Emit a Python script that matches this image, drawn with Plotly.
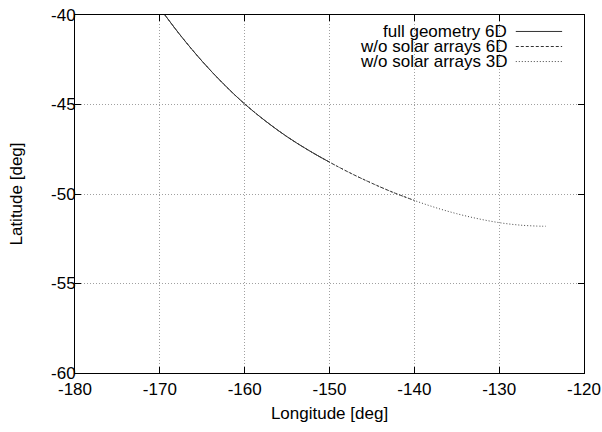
import plotly.graph_objects as go

# Ground track points
lon_full = [-169.4, -167.5, -165, -162.5, -160, -157.5, -155, -152.5, -150]
lat_full = [-40.0, -41.18, -42.59, -43.85, -44.97, -45.94, -46.80, -47.55, -48.22]

lon_6d = [-169.4, -167.5, -165, -162.5, -160, -157.5, -155, -152.5, -150,
          -147.5, -145, -142.5, -140]
lat_6d = [-40.0, -41.18, -42.59, -43.85, -44.97, -45.94, -46.80, -47.55, -48.22,
          -48.84, -49.40, -49.91, -50.36]

lon_3d = [-169.4, -167.5, -165, -162.5, -160, -157.5, -155, -152.5, -150,
          -147.5, -145, -142.5, -140, -137.5, -135, -132.5, -130, -127.5, -125, -124.5]
lat_3d = [-40.0, -41.18, -42.59, -43.85, -44.97, -45.94, -46.80, -47.55, -48.22,
          -48.84, -49.40, -49.91, -50.36, -50.76, -51.10, -51.38, -51.60, -51.74, -51.80, -51.80]

series_names = ["full geometry 6D", "w/o solar arrays 6D", "w/o solar arrays 3D"]
x_ticks = [-180, -170, -160, -150, -140, -130, -120]
y_ticks = [-60, -55, -50, -45, -40]

FONT = "Liberation Sans, Arial, Helvetica, sans-serif"
dashes = ["solid", "3px,2px", "1px,2px"]
colors = ["#333333", "#333333", "#444444"]

fig = go.Figure()
for name, xs, ys, d, c in zip(series_names, [lon_full, lon_6d, lon_3d],
                              [lat_full, lat_6d, lat_3d], dashes, colors):
    fig.add_trace(go.Scatter(x=xs, y=ys, mode="lines", name=name,
                             line=dict(color=c, width=1, dash=d, shape="spline"),
                             showlegend=False, hoverinfo="skip"))

# Legend (gnuplot style: text right-aligned, sample to the right)
fig.add_shape(type="rect", xref="paper", yref="paper", x0=0.54, x1=0.998,
              y0=0.83, y1=0.998, fillcolor="white", line=dict(width=0),
              layer="between")
rows_y = [0.954, 0.912, 0.870]
for name, yy, d, c in zip(series_names, rows_y, dashes, colors):
    fig.add_annotation(xref="paper", yref="paper", x=0.852, y=yy, text=name,
                       showarrow=False, xanchor="right", yanchor="middle",
                       font=dict(family=FONT, size=17, color="black"))
    fig.add_shape(type="line", xref="paper", yref="paper", x0=0.866, x1=0.957,
                  y0=yy, y1=yy, line=dict(color=c, width=1, dash=d))

axis_common = dict(
    showline=True, linecolor="black", linewidth=1, mirror="ticks",
    ticks="inside", ticklen=6, tickcolor="black", tickwidth=1,
    showgrid=True, gridcolor="#a0a0a0", gridwidth=1, griddash="1px,2px",
    zeroline=False, automargin=False, ticklabeloverflow="allow",
    tickfont=dict(family=FONT, size=17, color="black"),
)

fig.update_xaxes(range=[-180, -120], tickvals=x_ticks,
                 ticktext=[str(v) for v in x_ticks], ticklabelstandoff=1,
                 title=dict(text="Longitude [deg]", font=dict(family=FONT, size=17, color="black"),
                            standoff=8),
                 **axis_common)
fig.update_yaxes(range=[-60, -40], tickvals=y_ticks,
                 ticktext=[str(v) for v in y_ticks], ticklabelstandoff=-5,
                 title=dict(text="Latitude [deg]", font=dict(family=FONT, size=17, color="black"),
                            standoff=24),
                 **axis_common)

fig.update_layout(width=602, height=432, plot_bgcolor="white", paper_bgcolor="white",
                  margin=dict(l=75, r=18, t=15, b=59),
                  font=dict(family=FONT, size=17, color="black"))

fig.write_html("out.html", config={"displayModeBar": False},
               post_script="document.body.style.margin='0';document.body.style.overflow='hidden';")
